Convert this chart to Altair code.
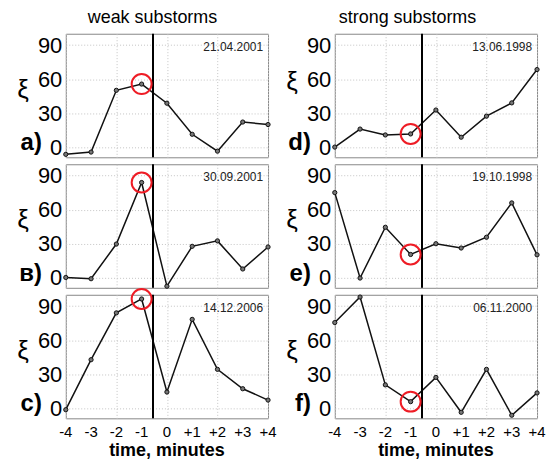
import altair as alt
import pandas as pd

# ---- data ----
times = [-4, -3, -2, -1, 0, 1, 2, 3, 4]
tick_labels = ["-4", "-3", "-2", "-1", "0", "+1", "+2", "+3", "+4"]
y_ticks = [0, 15, 30, 45, 60, 75, 90]
column_titles = ["weak substorms", "strong substorms"]
x_title = "time, minutes"
panel_letters = ["a)", "в)", "c)", "d)", "e)", "f)"]
panel_dates = ["21.04.2001", "30.09.2001", "14.12.2006",
               "13.06.1998", "19.10.1998", "06.11.2000"]
xi_a = [-6.4, -4.4, 50.1, 55.6, 38.7, 11.3, -3.6, 22.1, 19.9]
xi_b = [0.1, -1.0, 29.6, 83.9, -7.6, 27.6, 32.4, 7.6, 27.0]
xi_c = [-1.4, 42.7, 84.0, 96.3, 14.2, 78.3, 34.2, 17.1, 7.1]
xi_d = [0.0, 15.9, 10.7, 11.6, 32.7, 8.7, 27.3, 39.0, 68.4]
xi_e = [75.0, -0.4, 44.4, 20.4, 29.9, 26.1, 35.6, 65.9, 20.1]
xi_f = [75.5, 98.0, 20.5, 5.7, 27.1, -3.7, 34.2, -6.3, 13.4]
onset_time = -0.55
marked_time = -1

W, H = 203, 124
FONT = "Liberation Sans"
GRID = "#c4c4c4"


def text_layer(txt, x, y, size, weight="normal", align="center", color="black"):
    return alt.Chart(pd.DataFrame({"s": [txt]})).mark_text(
        align=align, baseline="middle", fontSize=size, fontWeight=weight,
        font=FONT, color=color
    ).encode(x=alt.value(x), y=alt.value(y), text="s:N")


def panel(values, letter, date, row, col):
    df = pd.DataFrame({"t": times, "xi": values})
    bottom = row == 2
    x = alt.X("t:Q", scale=alt.Scale(domain=[-4, 4], nice=False, zero=False),
              axis=alt.Axis(values=times, grid=True, gridColor=GRID, gridDash=[1, 2],
                            ticks=False, domain=False, labels=False, title=None))
    y = alt.Y("xi:Q", scale=alt.Scale(domain=[-9, 100], nice=False, zero=False),
              axis=alt.Axis(values=y_ticks, grid=True, gridColor=GRID, gridDash=[1, 2],
                            ticks=False, domain=False, title=None, labelOverlap=False,
                            labelExpr="datum.value % 30 == 0 ? '' + datum.value : ''",
                            labelFontSize=22, labelFont=FONT, labelColor="black",
                            labelPadding=4))
    line = alt.Chart(df).mark_line(color="#111", strokeWidth=1.5).encode(x=x, y=y)
    pts = alt.Chart(df).mark_point(shape="circle", size=18, filled=True, fill="#777",
                                   stroke="#111", strokeWidth=1, opacity=1
                                   ).encode(x="t:Q", y="xi:Q")
    onset = alt.Chart(pd.DataFrame({"t": [onset_time]})).mark_rule(
        color="black", strokeWidth=2).encode(x="t:Q")
    mark = alt.Chart(df[df.t == marked_time]).mark_point(
        shape="circle", size=400, filled=False, stroke="#ee1c25", strokeWidth=2,
        opacity=1).encode(x="t:Q", y="xi:Q")
    layers = [line, onset, pts, mark,
              text_layer(date, W - 5, 13, 12, align="right", color="#222"),
              text_layer(letter, -24, 110, 24, weight="bold", align="right"),
              text_layer("ξ", -43, 48 if (row == 0 and col == 1) else 56, 26)]
    if row == 0:
        layers.append(text_layer(column_titles[col], 87 if col == 0 else 73, -16, 18))
    if bottom:
        ticks_df = pd.DataFrame({"t": times, "lab": tick_labels})
        layers.append(alt.Chart(ticks_df).mark_text(
            fontSize=15, font=FONT, color="black", baseline="middle"
        ).encode(x="t:Q", y=alt.value(H + 14), text="lab:N"))
        layers.append(text_layer(x_title, W / 2, H + 33, 18, weight="bold"))
    return alt.layer(*layers).properties(width=W, height=H)


panels = [
    panel(xi_a, panel_letters[0], panel_dates[0], 0, 0),
    panel(xi_d, panel_letters[3], panel_dates[3], 0, 1),
    panel(xi_b, panel_letters[1], panel_dates[1], 1, 0),
    panel(xi_e, panel_letters[4], panel_dates[4], 1, 1),
    panel(xi_c, panel_letters[2], panel_dates[2], 2, 0),
    panel(xi_f, panel_letters[5], panel_dates[5], 2, 1),
]
chart = alt.concat(*panels, columns=2, spacing={"row": 7, "column": 67},
                   bounds="flush").properties(
    padding={"left": 8, "top": -1, "right": -1, "bottom": -2}
).configure_view(stroke="#888", strokeWidth=1)

chart.save("out.html", embed_options={"renderer": "svg", "actions": False})
